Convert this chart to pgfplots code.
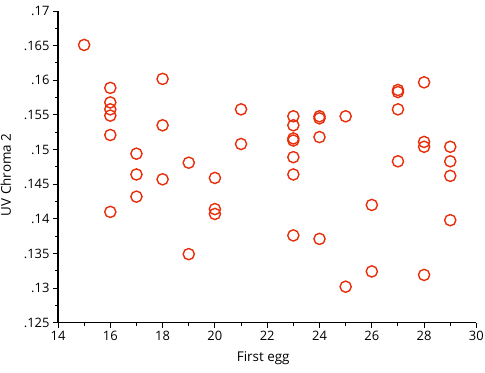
\documentclass[border=0pt]{standalone}
\usepackage{fontspec}
\setmainfont{Open Sans}
\usepackage{pgfplots}
\pgfplotsset{compat=1.18}
\definecolor{mk}{RGB}{232,45,10}
\begin{document}
\fontsize{13}{15}\selectfont
\begin{tikzpicture}
\useasboundingbox (-58bp,-50.3bp) rectangle (427bp,322.7bp);
\begin{axis}[
  scale only axis, width=418.4bp, height=311.7bp,
  at={(0,0)}, anchor=south west,
  xmin=14, xmax=30, ymin=0.125, ymax=0.17,
  axis x line*=bottom, axis y line*=left,
  axis line style={line width=1.3bp, black},
  xtick={14,16,...,30}, minor x tick num=1,
  ytick={0.125,0.13,0.135,0.14,0.145,0.15,0.155,0.16,0.165,0.17},
  yticklabels={.125,.13,.135,.14,.145,.15,.155,.16,.165,.17},
  minor y tick num=1,
  tick align=outside,
  major tick length=5bp, minor tick length=3bp,
  every tick/.style={black, line width=1bp},
  /pgf/number format/assume math mode=true,
  ticklabel style={font=\fontsize{13}{15}\selectfont},
  xticklabel style={yshift=1bp},
  yticklabel style={xshift=1bp},
  xlabel={First egg}, ylabel={UV Chroma 2},
  label style={font=\fontsize{13.5}{15}\selectfont},
  xlabel style={yshift=-2bp, xshift=-4bp},
  ylabel style={yshift=4bp, xshift=-8bp},
  scaled y ticks=false,
]
\addplot[only marks, mark=o, mark size=5.6bp, mk, mark options={line width=1.4bp}] coordinates {
(15,.1651)
(16,.1589) (16,.1568) (16,.1558) (16,.1549) (16,.1521) (16,.1410)
(17,.1494) (17,.1464) (17,.1432)
(18,.1602) (18,.1535) (18,.1457)
(19,.1481) (19,.1349)
(20,.1459) (20,.1414) (20,.1407)
(21,.1558) (21,.1508)
(23,.1548) (23,.1535) (23,.1516) (23,.1513) (23,.1489) (23,.1464) (23,.1376)
(24,.1548) (24,.1545) (24,.1518) (24,.1371)
(25,.1548) (25,.1302)
(26,.1420) (26,.1324)
(27,.1586) (27,.1583) (27,.1558) (27,.1483)
(28,.1597) (28,.1511) (28,.1504) (28,.1319)
(29,.1504) (29,.1483) (29,.1462) (29,.1398)
};
\end{axis}
\end{tikzpicture}
\end{document}
